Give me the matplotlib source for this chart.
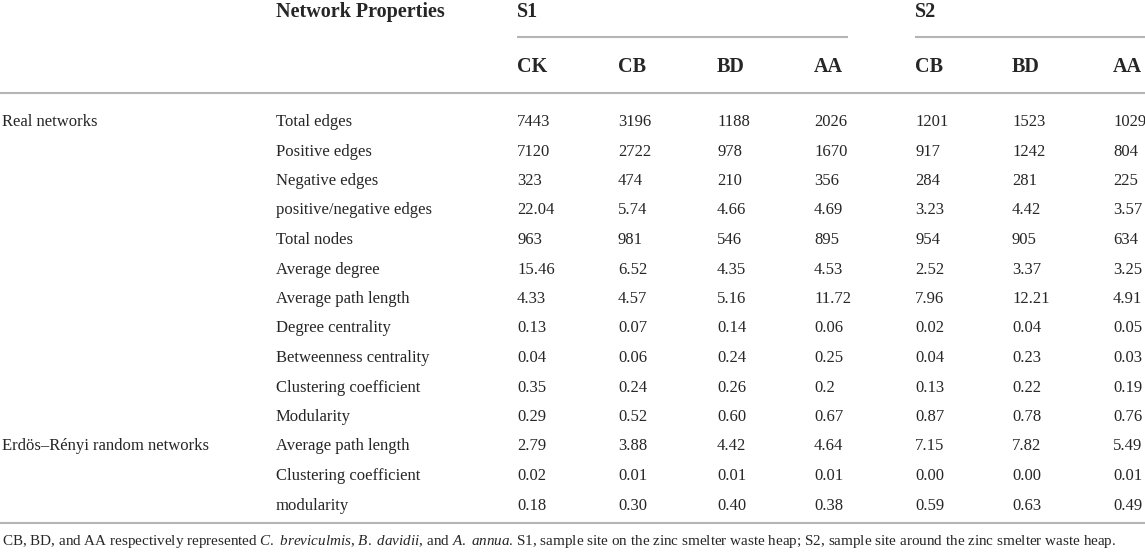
import matplotlib.pyplot as plt

# Table content
groups = ['S1', 'S2']
columns = ['CK', 'CB', 'BD', 'AA', 'CB', 'BD', 'AA']
sections = ['Real networks', 'Erdös–Rényi random networks']
properties = ['Total edges', 'Positive edges', 'Negative edges', 'positive/negative edges',
              'Total nodes', 'Average degree', 'Average path length', 'Degree centrality',
              'Betweenness centrality', 'Clustering coefficient', 'Modularity',
              'Average path length', 'Clustering coefficient', 'modularity']
values = [
    ['7443', '3196', '1188', '2026', '1201', '1523', '1029'],
    ['7120', '2722', '978', '1670', '917', '1242', '804'],
    ['323', '474', '210', '356', '284', '281', '225'],
    ['22.04', '5.74', '4.66', '4.69', '3.23', '4.42', '3.57'],
    ['963', '981', '546', '895', '954', '905', '634'],
    ['15.46', '6.52', '4.35', '4.53', '2.52', '3.37', '3.25'],
    ['4.33', '4.57', '5.16', '11.72', '7.96', '12.21', '4.91'],
    ['0.13', '0.07', '0.14', '0.06', '0.02', '0.04', '0.05'],
    ['0.04', '0.06', '0.24', '0.25', '0.04', '0.23', '0.03'],
    ['0.35', '0.24', '0.26', '0.2', '0.13', '0.22', '0.19'],
    ['0.29', '0.52', '0.60', '0.67', '0.87', '0.78', '0.76'],
    ['2.79', '3.88', '4.42', '4.64', '7.15', '7.82', '5.49'],
    ['0.02', '0.01', '0.01', '0.01', '0.00', '0.00', '0.01'],
    ['0.18', '0.30', '0.40', '0.38', '0.59', '0.63', '0.49'],
]
section_rows = [0, 11]

plt.rcParams['font.family'] = ['Liberation Serif', 'DejaVu Serif']
plt.rcParams['mathtext.fontset'] = 'custom'
plt.rcParams['mathtext.rm'] = 'Liberation Serif'
plt.rcParams['mathtext.it'] = 'Liberation Serif:italic'
txt = '#262626'
rule = '#b4b4b4'

W, H = 1145, 558
fig = plt.figure(figsize=(W / 100, H / 100), dpi=100)
ax = fig.add_axes([0, 0, 1, 1])
ax.set_xlim(0, W)
ax.set_ylim(H, 0)
ax.axis('off')

col_x = [517, 618, 717, 814, 915, 1012, 1113]
prop_x = 276
row0, dy = 122, 29.5

# header
ax.text(prop_x, 12, 'Network Properties', fontsize=14.5, fontweight='bold', color=txt, va='center')
ax.text(col_x[0], 12, groups[0], fontsize=14.5, fontweight='bold', color=txt, va='center')
ax.text(col_x[4], 12, groups[1], fontsize=14.5, fontweight='bold', color=txt, va='center')
ax.plot([col_x[0], 848], [37, 37], color=rule, lw=1.5, solid_capstyle='butt')
ax.plot([col_x[4], W], [37, 37], color=rule, lw=1.5, solid_capstyle='butt')
for x, c in zip(col_x, columns):
    ax.text(x, 67, c, fontsize=14.5, fontweight='bold', color=txt, va='center')
ax.plot([0, W], [93, 93], color=rule, lw=1.5)

# body
for i, (p, vals) in enumerate(zip(properties, values)):
    y = row0 + i * dy
    if i in section_rows:
        ax.text(2, y, sections[section_rows.index(i)], fontsize=12, color=txt, va='center')
    ax.text(prop_x, y, p, fontsize=12, color=txt, va='center')
    for x, v in zip(col_x, vals):
        ax.text(x, y, v, fontsize=12, color=txt, va='center')

ax.plot([0, W], [523, 523], color=rule, lw=1.5)

# footnote
ax.text(2, 541,
        'CB, BD, and AA respectively represented $\\it{C.}$ $\\it{breviculmis}$, '
        '$\\it{B.}$ $\\it{davidii}$, and $\\it{A.}$ $\\it{annua}$. '
        'S1, sample site on the zinc smelter waste heap; '
        'S2, sample site around the zinc smelter waste heap.',
        fontsize=10.9, color=txt, va='center')

fig.savefig('out.png', dpi=100)
